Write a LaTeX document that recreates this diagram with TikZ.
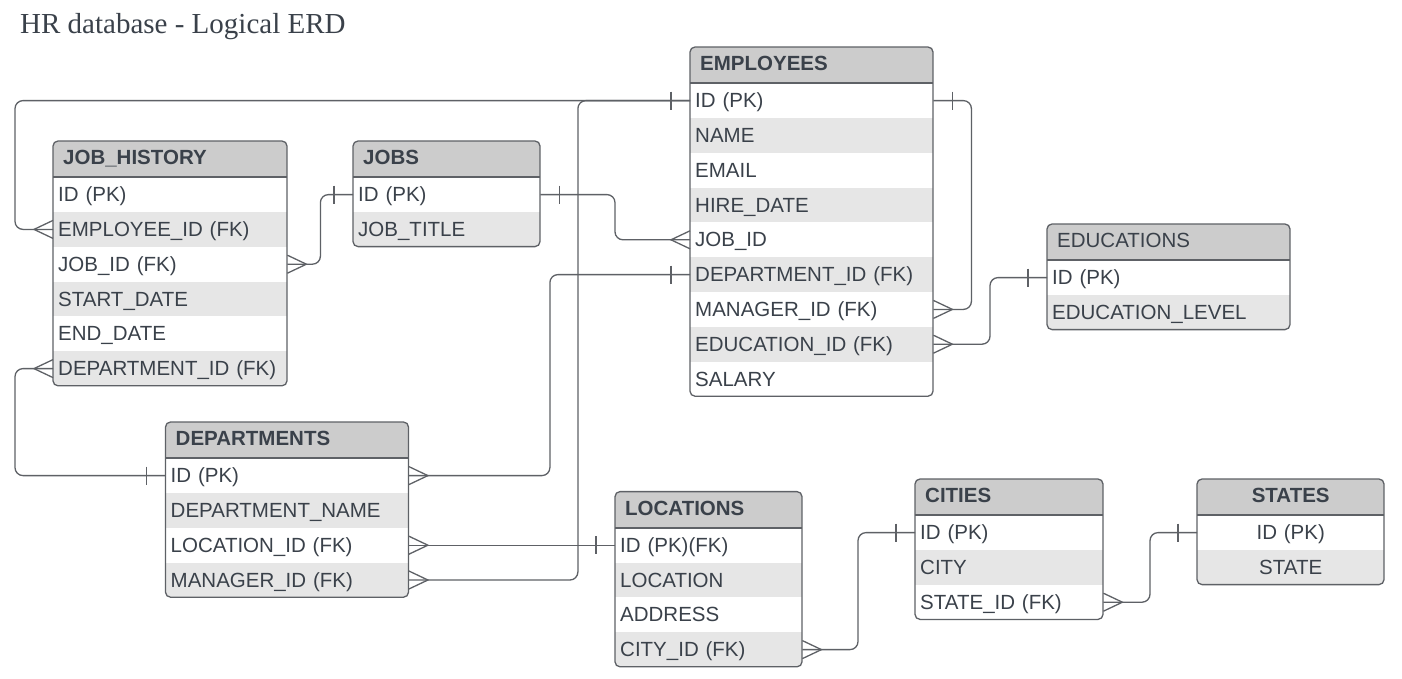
\documentclass[tikz,border=0pt]{standalone}
\usepackage{fontspec}
\setmainfont{Liberation Sans}
\newfontfamily\titlefont{Liberation Serif}
\usetikzlibrary{calc}
\definecolor{ink}{HTML}{3A414A}
\definecolor{edge}{HTML}{5E6166}
\definecolor{hdfill}{HTML}{CCCCCC}
\definecolor{stripe}{HTML}{E6E6E6}
\tikzset{
  conn/.style={draw=edge, line width=1.3pt, rounded corners=8pt},
  foot/.style={draw=edge, line width=1.3pt},
  tblborder/.style={draw=edge, line width=1.3pt, rounded corners=5pt},
  hdline/.style={draw=edge, line width=2pt},
  rowcell/.style={inner xsep=5pt, inner ysep=0pt, minimum height=34.8pt,
    text height=14.3pt, text depth=0pt, text=ink,
    font=\fontsize{20.5}{24}\selectfont},
  hdcell/.style={inner xsep=10pt, inner ysep=0pt, minimum height=36pt,
    text height=14.3pt, text depth=0pt, text=ink,
    font=\fontsize{20.5}{24}\selectfont},
}
% #1 name, #2 x, #3 y, #4 width, #5 rows, #6 header, #7 row list, #8 align
\newcommand\erdtable[8]{%
  \pgfmathsetmacro\tb{#3+36+#5*34.8}%
  \pgfmathsetmacro\tw{#4-10}%
  \pgfmathsetmacro\hw{#4-20}%
  \begin{scope}
    \clip[rounded corners=5pt] (#2,#3) rectangle (#2+#4,\tb);
    \fill[hdfill] (#2,#3) rectangle (#2+#4,#3+36);
    \foreach \t [count=\i] in {#7} {
      \pgfmathsetmacro\ry{#3+36+(\i-1)*34.8}
      \pgfmathtruncatemacro\odd{mod(\i,2)}
      \ifnum\odd=0 \def\rf{stripe}\else\def\rf{white}\fi
      \node[rowcell, fill=\rf, text width=\tw pt, align=#8, anchor=north west]
        (#1-\i) at (#2,\ry) {\t};
    }
  \end{scope}
  \node[hdcell, text width=\hw pt, align=#8, anchor=north west] (#1-h) at (#2,#3-1.5) {#6};
  \draw[tblborder] (#2,#3) rectangle (#2+#4,\tb);
  \draw[hdline] (#2,#3+36) -- (#2+#4,#3+36);
}
\newcommand\onebar[2]{\draw[foot] ($(#1)+(#2*19,-9)$) -- ($(#1)+(#2*19,9)$);}
\newcommand\crow[2]{\draw[foot] ($(#1)+(0,-9)$) -- ($(#1)+(#2*19,0)$) -- ($(#1)+(0,9)$);}
\begin{document}
\begin{tikzpicture}[x=1pt,y=-1pt]
\useasboundingbox[fill=white] (0,0) rectangle (1402,678);
\node[anchor=base west, inner sep=0pt, text=ink, font=\titlefont\fontsize{29}{34}\selectfont] (title) at (20,33) {HR database - Logical ERD};

\erdtable{jh}{53}{141}{234}{6}{\bfseries JOB\_HISTORY}{ID (PK),EMPLOYEE\_ID (FK),JOB\_ID (FK),START\_DATE,END\_DATE,DEPARTMENT\_ID (FK)}{left}
\erdtable{jobs}{353}{141}{187}{2}{\bfseries JOBS}{ID (PK),JOB\_TITLE}{left}
\erdtable{emp}{690}{47}{243}{9}{\bfseries EMPLOYEES}{ID (PK),NAME,EMAIL,HIRE\_DATE,JOB\_ID,DEPARTMENT\_ID (FK),MANAGER\_ID (FK),EDUCATION\_ID (FK),SALARY}{left}
\erdtable{edu}{1047}{224}{243}{2}{EDUCATIONS}{ID (PK),EDUCATION\_LEVEL}{left}
\erdtable{dep}{165.5}{422}{243}{4}{\bfseries DEPARTMENTS}{ID (PK),DEPARTMENT\_NAME,LOCATION\_ID (FK),MANAGER\_ID (FK)}{left}
\erdtable{loc}{615}{491.6}{187}{4}{\bfseries LOCATIONS}{ID (PK)(FK),LOCATION,ADDRESS,CITY\_ID (FK)}{left}
\erdtable{city}{915}{479}{188}{3}{\bfseries CITIES}{ID (PK),CITY,STATE\_ID (FK)}{left}
\erdtable{st}{1197}{479}{187}{2}{\bfseries STATES}{ID (PK),STATE}{center}

% connectors
\draw[conn] (emp-1.west) -| ($(jh-2.west)+(-38,0)$) -- (jh-2.west);
\draw[conn] (jobs-1.east) -| ($(emp-5.west)+(-75,0)$) -- (emp-5.west);
\draw[conn] (emp-1.east) -| ($(emp-7.east)+(38,0)$) -- (emp-7.east);
\draw[conn] (emp-8.east) -| ($(edu-1.west)+(-57,0)$) -- (edu-1.west);
\draw[conn] (city-3.east) -| ($(st-1.west)+(-47,0)$) -- (st-1.west);
\draw[conn] (loc-4.east) -| ($(city-1.west)+(-57,0)$) -- (city-1.west);
\draw[conn] (dep-3.east) -- (loc-1.west);
\draw[conn] (jh-6.west) -| ($(dep-1.west)+(-150.5,0)$) -- (dep-1.west);
\draw[conn] (emp-6.west) -| ($(dep-1.east)+(141,0)$) -- (dep-1.east);
\draw[conn] (emp-1.west) -| ($(dep-4.east)+(169,0)$) -- (dep-4.east);
\draw[conn] (jobs-1.west) -| ($(jh-3.east)+(33,0)$) -- (jh-3.east);

% one-bars
\onebar{emp-1.west}{-1}
\onebar{jobs-1.east}{1}
\onebar{emp-1.east}{1}
\onebar{edu-1.west}{-1}
\onebar{st-1.west}{-1}
\onebar{city-1.west}{-1}
\onebar{loc-1.west}{-1}
\onebar{dep-1.west}{-1}
\onebar{emp-6.west}{-1}
\onebar{jobs-1.west}{-1}

% crow's feet
\crow{jh-2.west}{-1}
\crow{emp-5.west}{-1}
\crow{emp-7.east}{1}
\crow{emp-8.east}{1}
\crow{city-3.east}{1}
\crow{loc-4.east}{1}
\crow{dep-3.east}{1}
\crow{jh-6.west}{-1}
\crow{dep-1.east}{1}
\crow{dep-4.east}{1}
\crow{jh-3.east}{1}
\end{tikzpicture}
\end{document}
